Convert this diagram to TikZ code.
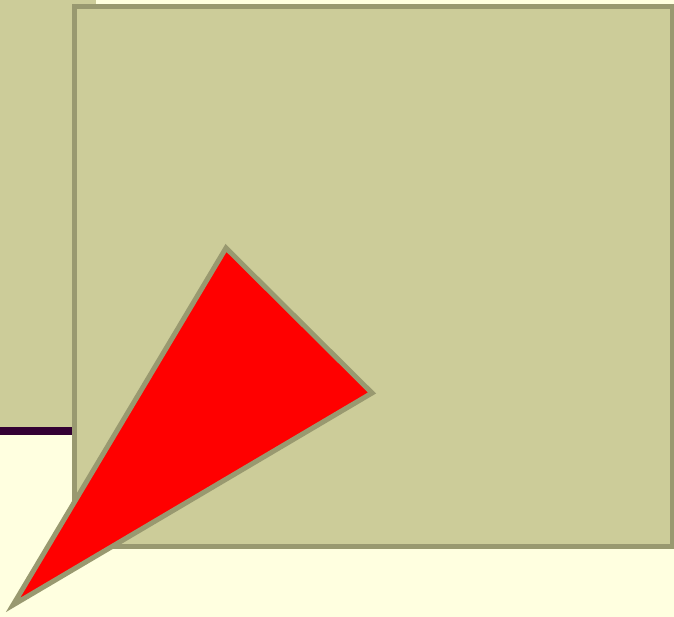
\documentclass[tikz,border=0pt]{standalone}
\usepackage{xcolor}
\usepackage{tikz}

\definecolor{paper}{RGB}{255,255,224}
\definecolor{khaki}{RGB}{204,204,153}
\definecolor{olive}{RGB}{153,153,112}
\definecolor{plum}{RGB}{51,0,51}

\begin{document}
\begin{tikzpicture}[
            x=1pt, y=-1pt,
            panel/.style={fill=khaki},
            frame/.style={fill=khaki, draw=olive, line width=5pt},
            wedge/.style={fill=red, draw=olive, line width=5pt, line join=miter},
            bar/.style={draw=plum, line width=8pt}
        ]
            \fill[paper] (0,0) rectangle (674,617);
            \useasboundingbox (0,0) rectangle (674,617);

            \coordinate (tl) at (74,7);
            \coordinate (br) at (672,546.5);
            \coordinate (apex) at (226,248);
            \coordinate (tip) at (372,393);
            \coordinate (foot) at (13,605);

            \fill[panel] (0,0) rectangle (96,427);
            \draw[bar] (0,431) -- (74,431);
            \draw[frame] (tl) rectangle (br);
            \draw[wedge] (apex) -- (tip) -- (foot) -- cycle;
        \end{tikzpicture}
\end{document}
